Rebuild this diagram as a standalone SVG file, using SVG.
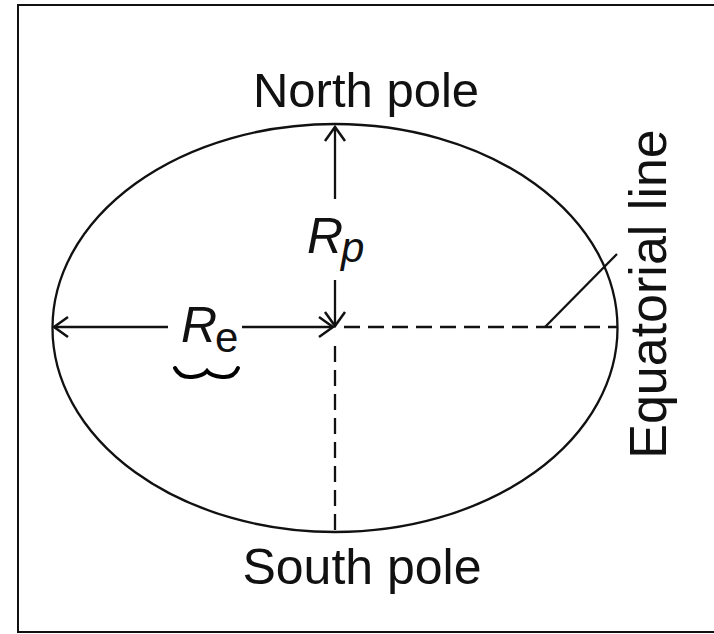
<svg xmlns="http://www.w3.org/2000/svg" width="714" height="634" viewBox="0 0 714 634">
<style>
.t{font-family:"Liberation Sans",Arial,sans-serif;fill:#111;}
.ln{stroke:#111;stroke-width:2.3;fill:none;}
.dash{stroke:#111;stroke-width:2.3;fill:none;stroke-dasharray:16 8;}
</style>
<defs>
<marker id="ah" markerUnits="userSpaceOnUse" markerWidth="30" markerHeight="30" viewBox="-20 -15 30 30" refX="0" refY="0" orient="auto">
<path d="M -14,-10 L 0,0 L -14,10" fill="none" stroke="#111" stroke-width="2.5"/>
</marker>
</defs>
<rect x="18" y="5" width="720" height="627" fill="#fff" stroke="#111" stroke-width="2"/>
<g id="ellipse">
<ellipse cx="335" cy="328" rx="282.5" ry="204" class="ln"/>
</g>
<g id="connectors">
<line x1="335" y1="199" x2="335" y2="127" class="ln" marker-end="url(#ah)"/>
<line x1="335" y1="280" x2="335" y2="326" class="ln" marker-end="url(#ah)"/>
<line x1="168" y1="327" x2="54" y2="327" class="ln" marker-end="url(#ah)"/>
<line x1="242" y1="327" x2="333" y2="327" class="ln" marker-end="url(#ah)"/>
<line x1="344" y1="327" x2="617" y2="327" class="dash"/>
<line x1="335" y1="346" x2="335" y2="532" class="dash"/>
<line x1="545" y1="327" x2="617" y2="254" class="ln"/>
<path d="M175,368 Q180,378 192,377 Q203,376 207,371 Q211,376 222,377 Q234,378 238,368" fill="none" stroke="#000" stroke-width="4" stroke-linecap="round"/>
</g>
<g id="north">
<text class="t" x="366" y="107" font-size="49" text-anchor="middle">North pole</text>
</g>
<g id="south">
<text class="t" x="362" y="584" font-size="50" text-anchor="middle">South pole</text>
</g>
<g id="rp">
<text class="t" x="307" y="253" font-size="50" font-style="italic">R</text>
<text class="t" x="341" y="262" font-size="42" font-style="italic">p</text>
</g>
<g id="re">
<text class="t" x="181" y="342" font-size="50" font-style="italic">R</text>
<text class="t" x="215" y="352" font-size="42">e</text>
</g>
<g id="equatorial">
<text class="t" transform="translate(666,294) rotate(-90)" font-size="52" text-anchor="middle">Equatorial line</text>
</g>
</svg>
